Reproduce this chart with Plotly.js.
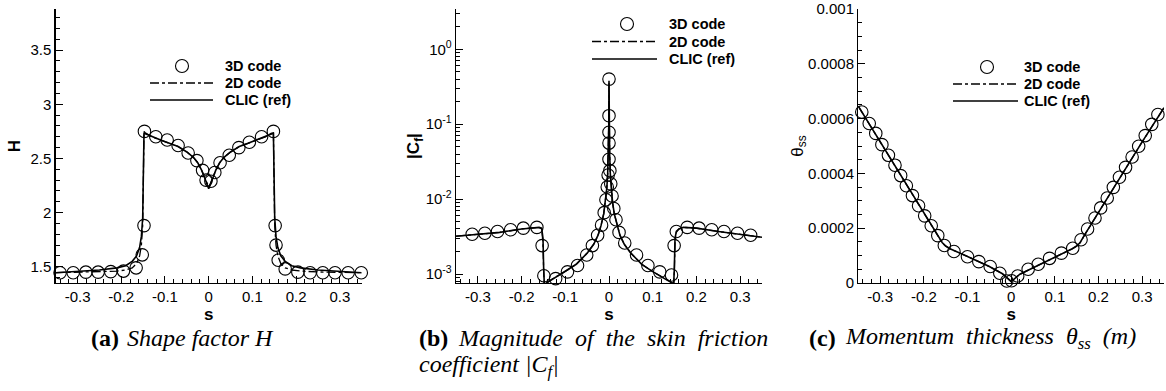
<!DOCTYPE html>
<html>
<head>
<meta charset="utf-8">
<script src="https://cdn.plot.ly/plotly-3.0.1.min.js"></script>
<style>html,body{margin:0;padding:0;background:#fff;}#chart{width:1166px;height:391px;}</style>
</head>
<body>
<div id="chart"></div>
<script>
// ---------- Data ----------
const LEGEND_NAMES = ['3D code', '2D code', 'CLIC (ref)'];
const X_TICKS = [-0.3, -0.2, -0.1, 0, 0.1, 0.2, 0.3];
const X_TICK_TEXT = ['-0.3', '-0.2', '-0.1', '0', '0.1', '0.2', '0.3'];

// (a) Shape factor H
const S_H_3D = [-0.340,-0.310,-0.281,-0.253,-0.224,-0.195,-0.166,-0.152,-0.148,-0.147,-0.121,-0.095,-0.070,-0.047,-0.027,-0.014,-0.006,0.005,0.014,0.026,0.047,0.069,0.093,0.121,0.148,0.152,0.154,0.159,0.175,0.204,0.232,0.261,0.289,0.319,0.349];
const H_3D   = [1.445,1.445,1.45,1.45,1.455,1.46,1.49,1.61,1.88,2.75,2.70,2.67,2.62,2.55,2.48,2.39,2.30,2.29,2.37,2.46,2.53,2.60,2.65,2.70,2.75,1.88,1.70,1.56,1.48,1.45,1.445,1.445,1.445,1.445,1.445];
const S_H_LINE = [-0.35,-0.30,-0.25,-0.21,-0.19,-0.175,-0.165,-0.158,-0.154,-0.151,-0.1495,-0.148,-0.146,-0.13,-0.11,-0.09,-0.07,-0.05,-0.035,-0.025,-0.016,-0.009,-0.004,0,0.004,0.009,0.016,0.025,0.035,0.05,0.07,0.09,0.11,0.13,0.146,0.148,0.1495,0.151,0.154,0.158,0.165,0.175,0.19,0.21,0.25,0.30,0.35];
const H_CLIC = [1.445,1.455,1.47,1.49,1.51,1.55,1.60,1.68,1.78,1.95,2.30,2.74,2.73,2.70,2.67,2.64,2.61,2.56,2.51,2.46,2.39,2.32,2.26,2.22,2.26,2.32,2.39,2.46,2.51,2.56,2.61,2.64,2.67,2.70,2.73,2.74,2.30,1.95,1.78,1.68,1.60,1.55,1.51,1.49,1.47,1.455,1.445];
const H_2D   = [1.445,1.448,1.452,1.46,1.47,1.49,1.53,1.60,1.70,1.88,2.30,2.75,2.74,2.70,2.67,2.64,2.61,2.56,2.51,2.46,2.39,2.32,2.27,2.24,2.27,2.32,2.39,2.46,2.51,2.56,2.61,2.64,2.67,2.70,2.74,2.75,2.30,1.88,1.70,1.60,1.53,1.49,1.47,1.46,1.452,1.448,1.445];

// (b) |Cf|
const S_CF_3D = [-0.351,-0.313,-0.284,-0.255,-0.225,-0.196,-0.165,-0.153,-0.149,-0.122,-0.095,-0.072,-0.051,-0.038,-0.026,-0.017,-0.011,-0.007,-0.004,-0.002,0,0,0,0,0,0.002,0.004,0.007,0.011,0.016,0.023,0.036,0.063,0.089,0.116,0.143,0.149,0.154,0.179,0.206,0.235,0.263,0.294,0.324];
const CF_3D   = [0.0033,0.0034,0.0035,0.0037,0.0039,0.0041,0.0042,0.0024,0.00095,0.00087,0.00107,0.0013,0.0018,0.0024,0.0033,0.0045,0.0066,0.0098,0.0145,0.021,0.034,0.056,0.078,0.13,0.40,0.024,0.016,0.011,0.0075,0.0053,0.0036,0.0026,0.0018,0.0013,0.00107,0.00097,0.0024,0.0037,0.0042,0.0041,0.0039,0.0037,0.0035,0.0033];
const S_CF_LINE = [-0.35,-0.30,-0.25,-0.20,-0.17,-0.16,-0.154,-0.151,-0.1495,-0.148,-0.146,-0.13,-0.10,-0.075,-0.05,-0.035,-0.025,-0.018,-0.012,-0.008,-0.005,-0.003,-0.0015,-0.0005,0,0.0005,0.0015,0.003,0.005,0.008,0.012,0.018,0.025,0.035,0.05,0.075,0.10,0.13,0.146,0.148,0.1495,0.151,0.154,0.16,0.17,0.20,0.25,0.30,0.35];
const CF_CLIC = [0.0032,0.0034,0.0036,0.0040,0.0042,0.0042,0.0041,0.0030,0.0012,0.00074,0.00074,0.00085,0.00108,0.00135,0.0019,0.0025,0.0033,0.0045,0.0064,0.0092,0.014,0.022,0.040,0.10,0.38,0.10,0.040,0.022,0.014,0.0092,0.0064,0.0045,0.0033,0.0025,0.0019,0.00135,0.00108,0.00085,0.00074,0.00074,0.0012,0.0030,0.0037,0.0040,0.0042,0.0041,0.0037,0.0034,0.0031];
const CF_2D   = [0.0032,0.0034,0.0036,0.0040,0.0042,0.0042,0.0040,0.0026,0.0011,0.00074,0.00074,0.00086,0.00108,0.00135,0.0019,0.0025,0.0033,0.0045,0.0064,0.0092,0.014,0.022,0.040,0.10,0.36,0.10,0.040,0.022,0.014,0.0092,0.0064,0.0045,0.0033,0.0025,0.0019,0.00135,0.00108,0.00086,0.00074,0.00074,0.0011,0.0026,0.0036,0.0040,0.0042,0.0041,0.0037,0.0034,0.0031];

// (c) Momentum thickness theta_ss
const S_TH_3D = [-0.342,-0.325,-0.310,-0.296,-0.281,-0.266,-0.253,-0.240,-0.226,-0.212,-0.198,-0.183,-0.168,-0.153,-0.131,-0.100,-0.074,-0.048,-0.026,-0.010,0.001,0.015,0.039,0.062,0.088,0.115,0.141,0.160,0.175,0.192,0.205,0.220,0.234,0.248,0.262,0.277,0.292,0.307,0.322,0.336];
const TH_3D   = [0.000624,0.000582,0.000546,0.000505,0.000466,0.00043,0.000392,0.000355,0.000319,0.000282,0.000245,0.000209,0.000173,0.000137,0.000115,0.000096,0.000078,0.00006,0.0000355,0.0000073,0.000008,0.0000256,0.00005,0.0000685,0.00009,0.000109,0.000127,0.000158,0.000197,0.000237,0.000274,0.00031,0.000349,0.000386,0.000422,0.00046,0.000499,0.000538,0.000579,0.000615];
const S_TH_LINE = [-0.35,-0.30,-0.25,-0.20,-0.17,-0.158,-0.15,-0.14,-0.10,-0.05,-0.02,0,0.02,0.05,0.10,0.14,0.15,0.158,0.17,0.20,0.25,0.30,0.35];
const TH_CLIC = [0.000645,0.000515,0.000387,0.000258,0.000180,0.000148,0.000135,0.000125,0.000097,0.000060,0.000034,0.000005,0.000032,0.000055,0.000095,0.000125,0.000135,0.000148,0.000180,0.000258,0.000387,0.000515,0.000640];
const TH_2D   = [0.000645,0.000515,0.000387,0.000258,0.000180,0.000147,0.000135,0.000125,0.000097,0.000060,0.000034,0.000006,0.000032,0.000055,0.000095,0.000125,0.000135,0.000147,0.000180,0.000258,0.000387,0.000515,0.000640];

// ---------- Layout helpers ----------
const W = 1166, HGT = 391;
const fx = p => p / W;
const fy = p => 1 - p / HGT;
const FONT = 'Liberation Sans, Arial, Helvetica, sans-serif';
const SERIF = 'Liberation Serif, Times New Roman, serif';

function lineTrace(x, y, xa, ya, dash, width, name) {
  return {x: x, y: y, xaxis: xa, yaxis: ya, type: 'scatter', mode: 'lines', name: name,
          line: {color: '#000', width: width, dash: dash}, showlegend: false, hoverinfo: 'skip'};
}
function markTrace(x, y, xa, ya, name) {
  return {x: x, y: y, xaxis: xa, yaxis: ya, type: 'scatter', mode: 'markers', name: name,
          marker: {symbol: 'circle-open', size: 12.5, color: '#000', line: {width: 1.1, color: '#000'}},
          showlegend: false, hoverinfo: 'skip', cliponaxis: false};
}

const data = [
  lineTrace(S_H_LINE, H_CLIC, 'x', 'y', 'solid', 1.6, LEGEND_NAMES[2]),
  lineTrace(S_H_LINE, H_2D, 'x', 'y', 'dashdot', 1.3, LEGEND_NAMES[1]),
  markTrace(S_H_3D, H_3D, 'x', 'y', LEGEND_NAMES[0]),
  lineTrace(S_CF_LINE, CF_CLIC, 'x2', 'y2', 'solid', 1.6, LEGEND_NAMES[2]),
  lineTrace(S_CF_LINE, CF_2D, 'x2', 'y2', 'dashdot', 1.3, LEGEND_NAMES[1]),
  markTrace(S_CF_3D, CF_3D, 'x2', 'y2', LEGEND_NAMES[0]),
  lineTrace(S_TH_LINE, TH_CLIC, 'x3', 'y3', 'solid', 1.6, LEGEND_NAMES[2]),
  lineTrace(S_TH_LINE, TH_2D, 'x3', 'y3', 'dashdot', 1.3, LEGEND_NAMES[1]),
  markTrace(S_TH_3D, TH_3D, 'x3', 'y3', LEGEND_NAMES[0])
];

function xAxis(d0, d1, anchor) {
  return {domain: [fx(d0), fx(d1)], anchor: anchor, range: [-0.35, 0.35],
    tickmode: 'array', tickvals: X_TICKS, ticktext: X_TICK_TEXT,
    ticks: 'inside', ticklen: 7, tickwidth: 1, tickcolor: '#000',
    minor: {dtick: 0.02, tick0: 0, ticks: 'inside', ticklen: 4, tickwidth: 1, tickcolor: '#000', showgrid: false},
    showline: true, linecolor: '#000', linewidth: 1.3, mirror: false,
    showgrid: false, zeroline: false, tickfont: {family: FONT, size: 15, color: '#000'},
    title: {text: 's', font: {family: FONT, size: 17, color: '#000', weight: 'bold'}, standoff: 1}};
}
function yBase(anchor) {
  return {domain: [fy(283), fy(9)], anchor: anchor,
    ticks: 'inside', ticklen: 7, tickwidth: 1, tickcolor: '#000',
    showline: true, linecolor: '#000', linewidth: 1.3, mirror: false,
    showgrid: false, zeroline: false, tickfont: {family: FONT, size: 15, color: '#000'}};
}

const ya = Object.assign(yBase('x'), {range: [1.35, 3.88], tickmode: 'array',
  tickvals: [1.5, 2, 2.5, 3, 3.5], ticktext: ['1.5', '2', '2.5', '3', '3.5'],
  minor: {dtick: 0.1, tick0: 0, ticks: 'inside', ticklen: 4, tickwidth: 1, tickcolor: '#000', showgrid: false},
  title: {text: 'H', font: {family: FONT, size: 17, color: '#000', weight: 'bold'}, standoff: 5}});
const yb = Object.assign(yBase('x2'), {type: 'log', range: [Math.log10(0.00076), Math.log10(3.45)], tickmode: 'array',
  tickvals: [0.001, 0.01, 0.1, 1], ticktext: ['10<sup>-3</sup>', '10<sup>-2</sup>', '10<sup>-1</sup>', '10<sup>0</sup>'],
  minor: {dtick: 'D1', ticks: 'inside', ticklen: 4, tickwidth: 1, tickcolor: '#000', showgrid: false},
  title: {text: '|C<sub>f</sub>|', font: {family: FONT, size: 17, color: '#000', weight: 'bold'}, standoff: 1}});
const yc = Object.assign(yBase('x3'), {range: [0, 0.001], tickmode: 'array',
  tickvals: [0, 0.0002, 0.0004, 0.0006, 0.0008, 0.001], ticktext: ['0', '0.0002', '0.0004', '0.0006', '0.0008', '0.001'],
  minor: {dtick: 0.00005, tick0: 0, ticks: 'inside', ticklen: 4, tickwidth: 1, tickcolor: '#000', showgrid: false},
  title: {text: 'θ<sub>ss</sub>', font: {family: FONT, size: 17, color: '#000'}, standoff: 0}});

// Legends (one per panel) drawn as glyphs + text
const LEG = [
  {cx: 182, lx0: 150, lx1: 213, tx: 223, rows: [66, 83, 100]},
  {cx: 627, lx0: 592, lx1: 657, tx: 667, rows: [24, 41.5, 59]},
  {cx: 987, lx0: 953, lx1: 1018, tx: 1022, rows: [67, 84, 101]}
];
const shapes = [], annotations = [];
LEG.forEach(L => {
  shapes.push({type: 'circle', xref: 'paper', yref: 'paper', xsizemode: 'pixel', ysizemode: 'pixel',
    xanchor: fx(L.cx), yanchor: fy(L.rows[0]), x0: -6.5, x1: 6.5, y0: -6.5, y1: 6.5, line: {color: '#000', width: 1.1}});
  shapes.push({type: 'line', xref: 'paper', yref: 'paper', x0: fx(L.lx0), x1: fx(L.lx1), y0: fy(L.rows[1]), y1: fy(L.rows[1]),
    line: {color: '#000', width: 1.4, dash: 'dashdot'}});
  shapes.push({type: 'line', xref: 'paper', yref: 'paper', x0: fx(L.lx0), x1: fx(L.lx1), y0: fy(L.rows[2]), y1: fy(L.rows[2]),
    line: {color: '#000', width: 1.6}});
  LEGEND_NAMES.forEach((n, i) => annotations.push({xref: 'paper', yref: 'paper', x: fx(L.tx), y: fy(L.rows[i]),
    xanchor: 'left', yanchor: 'middle', showarrow: false, text: n,
    font: {family: FONT, size: 14.5, color: '#000', weight: 'bold'}}));
});

// Captions: bold label + italic text
const CAP_SIZE = 24;
const CAPTIONS = [
  {x: 89, lx: 125, y: 338, label: '(a)', text: 'Shape&nbsp;factor&nbsp;H'},
  {x: 417, lx: 456, y: 338, label: '(b)', text: 'Magnitude&nbsp;&nbsp;of&nbsp;&nbsp;the&nbsp;&nbsp;skin&nbsp;&nbsp;friction'},
  {x: null, lx: 417, y: 366, label: null, text: 'coefficient |C<sub>f</sub>|'},
  {x: 807, lx: 843, y: 338, label: '(c)', text: 'Momentum&nbsp;&nbsp;thickness&nbsp;&nbsp;θ<sub>ss</sub>&nbsp;&nbsp;(m)'}
];
CAPTIONS.forEach(c => {
  if (c.label) annotations.push({xref: 'paper', yref: 'paper', x: fx(c.x), y: fy(c.y),
    xanchor: 'left', yanchor: 'middle', showarrow: false, text: c.label,
    font: {family: SERIF, size: CAP_SIZE, color: '#000', weight: 'bold'}});
  annotations.push({xref: 'paper', yref: 'paper', x: fx(c.lx), y: fy(c.y),
    xanchor: 'left', yanchor: 'middle', showarrow: false, text: c.text,
    font: {family: SERIF, size: CAP_SIZE, color: '#000', style: 'italic'}});
});

const layout = {
  width: W, height: HGT, margin: {l: 0, r: 0, t: 0, b: 0},
  paper_bgcolor: '#fff', plot_bgcolor: '#fff', showlegend: false,
  font: {family: FONT, color: '#000'},
  xaxis: xAxis(55.7, 361.7, 'y'), yaxis: ya,
  xaxis2: xAxis(456, 762, 'y2'), yaxis2: yb,
  xaxis3: xAxis(858.3, 1164, 'y3'), yaxis3: yc,
  shapes: shapes, annotations: annotations
};

Plotly.newPlot('chart', data, layout, {staticPlot: true, displayModeBar: false});
</script>
</body>
</html>
